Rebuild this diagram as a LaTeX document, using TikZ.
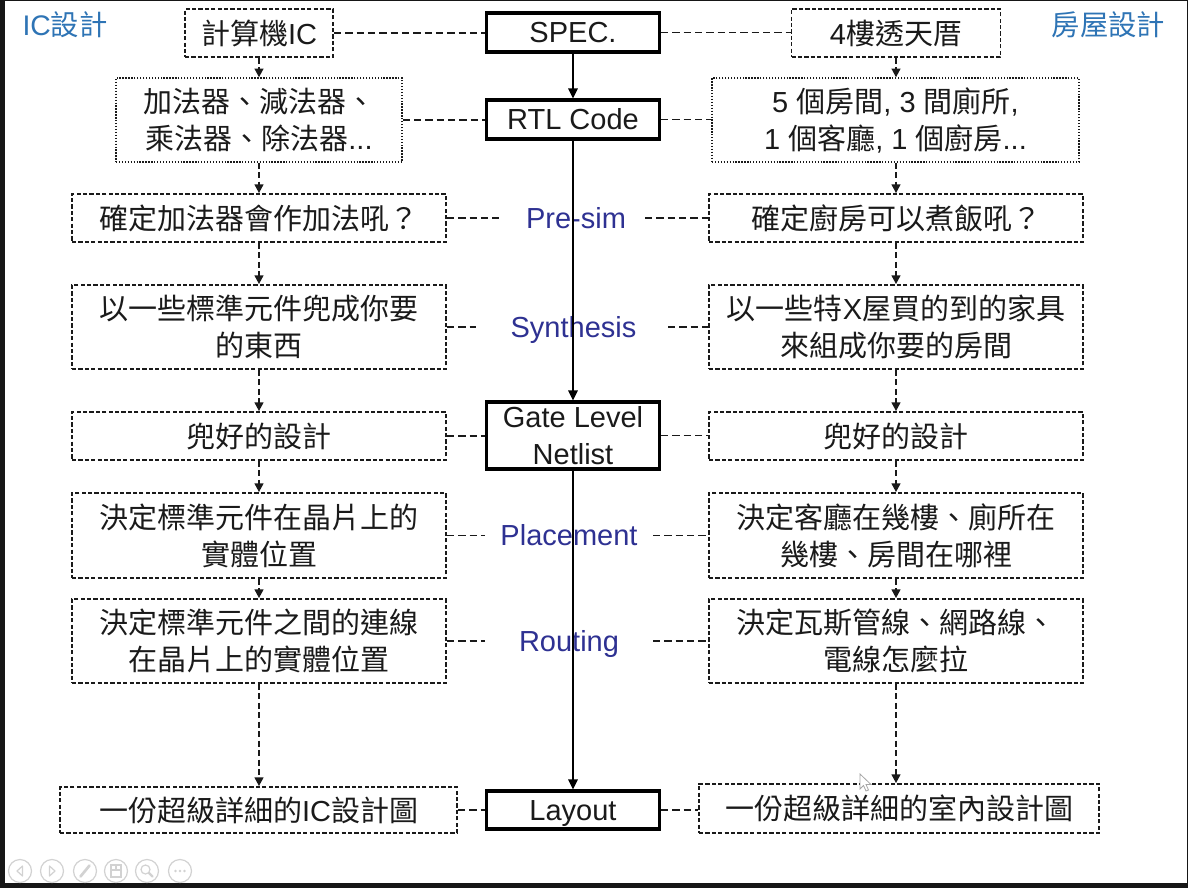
\documentclass[tikz,border=0pt]{standalone}
\usepackage{fontspec}
\setmainfont{Liberation Sans}
\newfontfamily\cjkfont{Noto Sans CJK TC}
\newcommand{\hz}[1]{{\cjkfont #1}}
\usetikzlibrary{arrows.meta}
\definecolor{inkblack}{HTML}{1A1A1A}
\definecolor{sideblue}{HTML}{2E74B5}
\definecolor{stepnavy}{HTML}{2E3192}
\definecolor{icongrey}{HTML}{D2D2D2}
\definecolor{framedark}{HTML}{161616}

\begin{document}
\begin{tikzpicture}[x=0.75pt,y=-0.75pt,
  every node/.style={font=\fontsize{21.75}{27.75}\selectfont, text=inkblack,
    inner sep=0pt, align=center},
  mainbox/.style={draw=black, line width=2.3pt, minimum width=129.75pt},
  dbox/.style={draw=inkblack, line width=1.3pt, dash pattern=on 3.2pt off 1.6pt},
  tbox/.style={draw=inkblack, line width=1pt, dash pattern=on 1pt off 1.2pt},
  sidelabel/.style={text=sideblue, font=\fontsize{21.25}{26}\selectfont},
  steplabel/.style={text=stepnavy, text height=15.6pt, text depth=0pt},
  hlink/.style={draw=inkblack, line width=1.4pt, dash pattern=on 5.5pt off 3pt},
  vflow/.style={draw=inkblack, line width=1.4pt, dash pattern=on 4.5pt off 2.6pt,
    -{Triangle[width=6.5pt,length=6.5pt]}},
  mainflow/.style={draw=black, line width=1.4pt, -{Triangle[width=7pt,length=7.5pt]}},
  icon/.style={draw=icongrey, line width=0.9pt}
]
% page and screen frame
\useasboundingbox (0,0) rectangle (1188,888);
\fill[white] (0,0) rectangle (1188,888);
\fill[framedark] (0,0) rectangle (5,888);
\fill[framedark] (0,0) rectangle (1188,1.5);
\fill[framedark] (0,883) rectangle (1188,888);
\fill[framedark] (1186.5,0) rectangle (1188,888);

% column titles
\node[sidelabel] (ictitle) at (65,25) {IC\hz{設計}};
\node[sidelabel] (housetitle) at (1108.5,25) {\hz{房屋設計}};

% main flow
\node[mainbox, minimum height=29.25pt] (spec) at (573,32.5) {SPEC.};
\node[mainbox, minimum height=29.25pt] (rtl) at (573,119.5) {RTL Code};
\node[mainbox, minimum height=50.25pt] (gate) at (573,435.5) {Gate Level\\Netlist};
\node[mainbox, minimum height=28.5pt, text height=15.6pt, text depth=0pt] (layout) at (573,810) {Layout};

% step names between the columns
\node[steplabel] (presim) at (576,218) {Pre-sim};
\node[steplabel] (synth) at (573.5,327) {Synthesis};
\node[steplabel] (place) at (569,535.5) {Placement};
\node[steplabel] (route) at (569,641) {Routing};

% IC design column
\node[dbox, minimum width=111pt, minimum height=36pt] (lic) at (259,33) {\hz{計算機}IC};
\node[tbox, minimum width=214.5pt, minimum height=63pt] (ladd) at (259,120)
  {\hz{加法器、減法器、}\\\hz{乘法器、除法器}...};
\node[dbox, minimum width=280.5pt, minimum height=36pt] (lsim) at (259,218) {\hz{確定加法器會作加法吼？}};
\node[dbox, minimum width=280.5pt, minimum height=63pt] (lsyn) at (259,327)
  {\hz{以一些標準元件兜成你要}\\\hz{的東西}};
\node[dbox, minimum width=280.5pt, minimum height=36pt] (lgate) at (259,436) {\hz{兜好的設計}};
\node[dbox, minimum width=280.5pt, minimum height=63.75pt] (lplace) at (259,535.5)
  {\hz{決定標準元件在晶片上的}\\\hz{實體位置}};
\node[dbox, minimum width=280.5pt, minimum height=63pt] (lroute) at (259,641)
  {\hz{決定標準元件之間的連線}\\\hz{在晶片上的實體位置}};
\node[dbox, minimum width=297.75pt, minimum height=34.5pt] (llay) at (258.5,810)
  {\hz{一份超級詳細的}IC\hz{設計圖}};

% house design column
\node[dbox, minimum width=156.75pt, minimum height=36pt] (rhouse) at (896,33) {4\hz{樓透天厝}};
\node[tbox, minimum width=275.25pt, minimum height=63pt] (rrooms) at (895.5,120)
  {5 \hz{個房間}, 3 \hz{間廁所},\\1 \hz{個客廳}, 1 \hz{個廚房}...};
\node[dbox, minimum width=280.5pt, minimum height=36pt] (rsim) at (896,218) {\hz{確定廚房可以煮飯吼？}};
\node[dbox, minimum width=280.5pt, minimum height=63pt] (rsyn) at (896,327)
  {\hz{以一些特}X\hz{屋買的到的家具}\\\hz{來組成你要的房間}};
\node[dbox, minimum width=280.5pt, minimum height=36pt] (rgate) at (896,436) {\hz{兜好的設計}};
\node[dbox, minimum width=280.5pt, minimum height=63.75pt] (rplace) at (896,535.5)
  {\hz{決定客廳在幾樓、廁所在}\\\hz{幾樓、房間在哪裡}};
\node[dbox, minimum width=280.5pt, minimum height=63pt] (rroute) at (896,641)
  {\hz{決定瓦斯管線、網路線、}\\\hz{電線怎麼拉}};
\node[dbox, minimum width=300pt, minimum height=36.75pt] (rlay) at (899,808.5)
  {\hz{一份超級詳細的室內設計圖}};

% ends of the dashed ties beside the step names
\coordinate (simA) at (499,218);
\coordinate (simB) at (645,218);
\coordinate (synA) at (476,327);
\coordinate (synB) at (668,327);
\coordinate (plcA) at (485,535.5);
\coordinate (plcB) at (653,535.5);
\coordinate (rouA) at (485,641);
\coordinate (rouB) at (653,641);

% horizontal dashed ties
\draw[hlink] (lic.east) -- (lic.east -| spec.west);
\draw[hlink] (spec.east) -- (spec.east -| rhouse.west);
\draw[hlink] (ladd.east) -- (ladd.east -| rtl.west);
\draw[hlink] (rtl.east) -- (rtl.east -| rrooms.west);
\draw[hlink] (lsim.east) -- (simA);
\draw[hlink] (simB) -- (rsim.west);
\draw[hlink] (lsyn.east) -- (synA);
\draw[hlink] (synB) -- (rsyn.west);
\draw[hlink] (lgate.east) -- (lgate.east -| gate.west);
\draw[hlink] (gate.east) -- (gate.east -| rgate.west);
\draw[hlink] (lplace.east) -- (plcA);
\draw[hlink] (plcB) -- (rplace.west);
\draw[hlink] (lroute.east) -- (rouA);
\draw[hlink] (rouB) -- (rroute.west);
\draw[hlink] (llay.east) -- (llay.east -| layout.west);
\draw[hlink] (layout.east) -- (layout.east -| rlay.west);

% main flow arrows
\draw[mainflow] (spec.south) -- (rtl.north);
\draw[mainflow] (rtl.south) -- (gate.north);
\draw[mainflow] (gate.south) -- (layout.north);

% IC column arrows
\draw[vflow] (lic.south) -- (ladd.north);
\draw[vflow] (ladd.south) -- (lsim.north);
\draw[vflow] (lsim.south) -- (lsyn.north);
\draw[vflow] (lsyn.south) -- (lgate.north);
\draw[vflow] (lgate.south) -- (lplace.north);
\draw[vflow] (lplace.south) -- (lroute.north);
\draw[vflow] (lroute.south) -- (lroute.south |- llay.north);

% house column arrows
\draw[vflow] (rhouse.south) -- (rhouse.south |- rrooms.north);
\draw[vflow] (rrooms.south -| rsim.north) -- (rsim.north);
\draw[vflow] (rsim.south) -- (rsyn.north);
\draw[vflow] (rsyn.south) -- (rgate.north);
\draw[vflow] (rgate.south) -- (rplace.north);
\draw[vflow] (rplace.south) -- (rroute.north);
\draw[vflow] (rroute.south) -- (rroute.south |- rlay.north);

% mouse pointer
\draw[fill=white, draw=gray!70, line width=0.6pt]
  (860,774) -- (860,789) -- (863.5,785.5) -- (866,791) -- (868.5,790)
  -- (866,784.5) -- (871,784.5) -- cycle;

% slide-show control buttons
\foreach \cx in {20,52,85,116,147,180}
  \draw[icon] (\cx,871) circle (11.5);
\draw[icon, line join=round] (22.5,866) -- (17,871) -- (22.5,876) -- cycle;
\draw[icon, line join=round] (49.5,866) -- (55,871) -- (49.5,876) -- cycle;
\draw[icon, line width=2pt, line cap=round] (80.5,876.5) -- (89.5,865.5);
\draw[icon] (111,865) rectangle (116,870);
\draw[icon] (116,865) rectangle (121,870);
\draw[icon] (111,870) rectangle (121,877);
\draw[icon] (145.5,869.5) circle (4.5);
\draw[icon, line width=1.6pt, line cap=round] (148.8,872.8) -- (152.5,876.5);
\foreach \dx in {-4.5,0,4.5}
  \fill[icongrey] (180+\dx,871) circle (1.4);
\end{tikzpicture}
\end{document}
